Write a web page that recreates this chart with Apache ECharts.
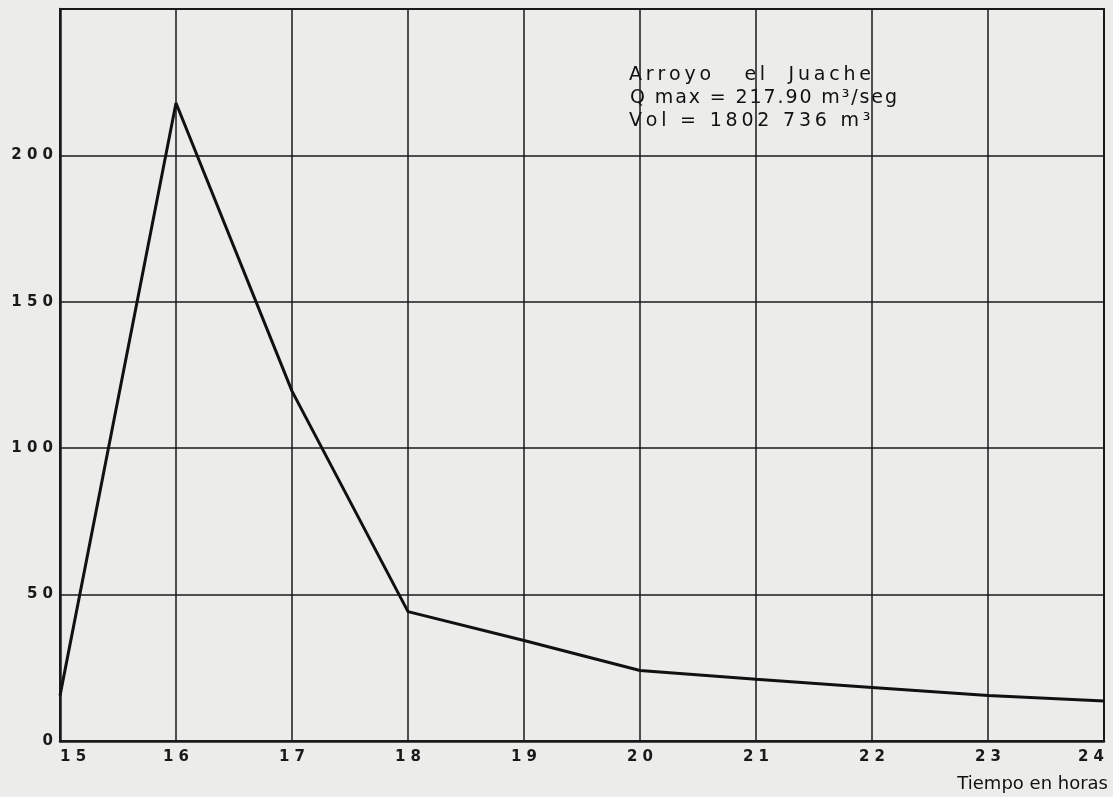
<!DOCTYPE html>
<html><head><meta charset="utf-8">
<script src="https://cdn.jsdelivr.net/npm/echarts@6/dist/echarts.min.js"></script>
<style>html,body{margin:0;padding:0;background:#ececea;}#c{width:1113px;height:797px;}</style>
</head><body><div id="c"></div>
<script>
const hours = [15, 16, 17, 18, 19, 20, 21, 22, 23, 24];
const discharge = [15.5, 217.9, 119.5, 44.2, 34.3, 24.1, 21.1, 18.3, 15.5, 13.7];
const yTicks = [0, 50, 100, 150, 200];
const noteTitle = 'Arroyo   el  Juache';
const noteQmax = 'Q max = 217.90 m³/seg';
const noteVol = 'Vol = 1802 736 m³';
const xTitle = 'Tiempo en horas';

const THIN = '\u2009', HAIR = '\u200A';
const spaced = (s, sep) => s.split('').join(sep);

const chart = echarts.init(document.getElementById('c'));
const font = 'DejaVu Sans';
chart.setOption({
  backgroundColor: '#ececea',
  animation: false,
  grid: { left: 60, right: 9, top: 9, bottom: 56, show: true, borderColor: '#1a1a1a', borderWidth: 2,
          outerBoundsMode: 'none', containLabel: false },
  xAxis: {
    type: 'value', min: 15, max: 24, interval: 1,
    axisLine: { show: true, lineStyle: { color: '#1a1a1a', width: 2.5 } },
    axisTick: { show: false },
    splitLine: { show: true, lineStyle: { color: '#1a1a1a', width: 1.5 } },
    axisLabel: { color: '#1a1a1a', fontFamily: font, fontSize: 15, fontWeight: 'bold', margin: 9,
      alignMinLabel: 'left', alignMaxLabel: 'right',
      formatter: v => spaced(String(v), ' ') }
  },
  yAxis: {
    type: 'value', min: 0, max: 250, interval: 50,
    axisLine: { show: true, lineStyle: { color: '#1a1a1a', width: 2.5 } },
    axisTick: { show: false },
    splitLine: { show: true, lineStyle: { color: '#1a1a1a', width: 1.5 } },
    axisLabel: { color: '#1a1a1a', fontFamily: font, fontSize: 15, fontWeight: 'bold', margin: 7,
      formatter: v => yTicks.indexOf(v) >= 0 ? spaced(String(v), ' ') : '' }
  },
  series: [{
    type: 'line',
    data: hours.map((h, i) => [h, discharge[i]]),
    symbol: 'none',
    lineStyle: { color: '#111', width: 3 }
  }],
  graphic: [
    { type: 'text', left: 629, top: 66, style: { text: spaced(noteTitle, THIN),
        fontFamily: font, fontSize: 19, fill: '#111' } },
    { type: 'text', left: 630, top: 89, style: { text: spaced(noteQmax, HAIR),
        fontFamily: font, fontSize: 19, fill: '#111' } },
    { type: 'text', left: 629, top: 112, style: { text: spaced(noteVol, THIN),
        fontFamily: font, fontSize: 19, fill: '#111' } },
    { type: 'text', right: 5, top: 775, style: { text: xTitle,
        fontFamily: font, fontSize: 18, fill: '#111' } }
  ]
});
</script></body></html>
